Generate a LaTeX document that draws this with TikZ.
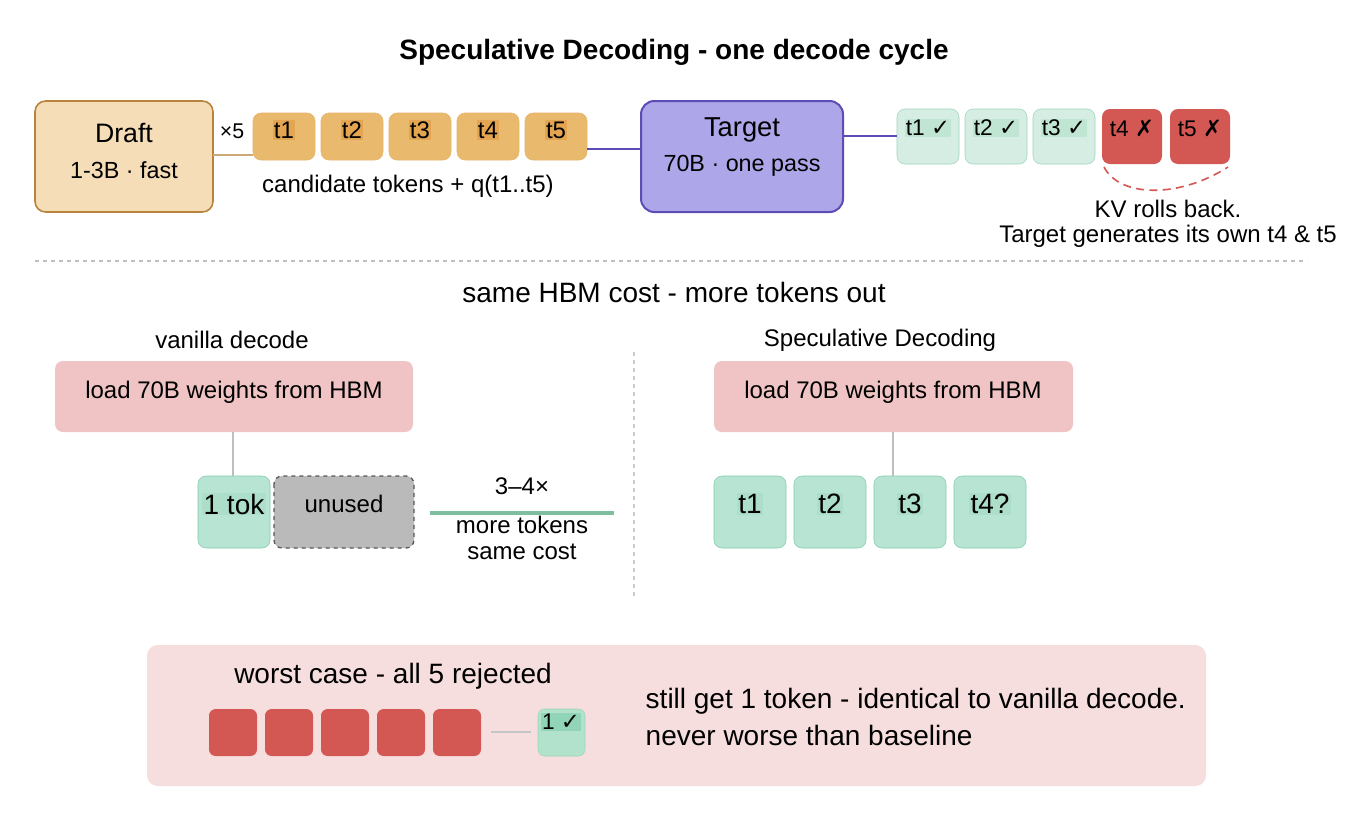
\documentclass[tikz,border=0pt]{standalone}
\usepackage{fontspec}
\setmainfont{Liberation Sans}
\newfontfamily\sym{DejaVu Sans}
\begin{document}
\begin{tikzpicture}[x=0.75pt,y=-0.75pt,
  ft/.style={font=\fontsize{#1}{#1}\selectfont},
  lbl/.style={inner sep=1pt,text depth=0pt},
]
\definecolor{draftF}{HTML}{F5DDB8}\definecolor{draftD}{HTML}{B8843D}
\definecolor{tokF}{HTML}{E9B96E}\definecolor{tokD}{HTML}{E6B56A}\definecolor{tokH}{HTML}{E3A552}
\definecolor{tgtF}{HTML}{ADA6E8}\definecolor{tgtD}{HTML}{5B4DB5}
\definecolor{accF}{HTML}{D5EDE3}\definecolor{accD}{HTML}{9ED6BD}\definecolor{accH}{HTML}{C0E5D3}
\definecolor{rejF}{HTML}{D35752}
\definecolor{loadF}{HTML}{F0C4C4}
\definecolor{grnF}{HTML}{B8E4D4}\definecolor{grnD}{HTML}{7FCDAA}\definecolor{grnH}{HTML}{ACDECA}
\definecolor{panF}{HTML}{F7DEDE}
\useasboundingbox (0,0) rectangle (1352,826);
\fill[white] (0,0) rectangle (1352,826);
\node[ft=21] (title) at (674,52) {\bfseries Speculative Decoding - one decode cycle};
% Draft
\draw[draftD,fill=draftF,rounded corners=8pt,line width=1.2pt] (35,101) rectangle (213,212);
\node[ft=20] (draft) at (124,133) {Draft};
\node[ft=17.5] (draftsub) at (124,170) {1-3B · fast};
\coordinate (draftR) at (213,155);
\node[ft=16] (x5) at (232,131) {×5};
% candidate tokens
\foreach \i/\x in {1/253,2/321,3/389,4/457,5/525}{
  \draw[tokD,fill=tokF,rounded corners=6pt] (\x,113) rectangle ++(62,47);
  \coordinate (c\i L) at (\x,155); \coordinate (c\i R) at (\x+62,149);
  \node[ft=18,fill=tokH,lbl] (c\i) at (\x+31,130) {t\i};
}
\draw[draftD!70!white,line width=2pt] (draftR) -- (c1L);
\node[ft=18] (cand) at (408,186) {candidate tokens + q(t1..t5)};
% Target
\draw[tgtD,fill=tgtF,rounded corners=10pt,line width=1.5pt] (641,101) rectangle (843,212);
\node[ft=20.5] (tgt) at (742,130) {Target};
\node[ft=17.5] (tgtsub) at (742,166) {70B · one pass};
\coordinate (tgtL) at (641,149); \coordinate (tgtR) at (843,136);
\draw[tgtD,line width=1.5pt] (c5R) -- (tgtL);
% verified
\foreach \i/\x in {1/897,2/965,3/1033}{
  \draw[accD,fill=accF,rounded corners=6pt] (\x,109) rectangle ++(62,55);
  \node[ft=17,fill=accH,lbl] (v\i) at (\x+31,128) {t\i\ {\sym\bfseries ✓}};
}
\coordinate (v1L) at (897,136);
\draw[tgtD,line width=1.5pt] (tgtR) -- (v1L);
\foreach \i/\x in {4/1102,5/1170}{
  \fill[rejF,rounded corners=6pt] (\x,109) rectangle ++(60,55);
  \node[ft=17,lbl] (v\i) at (\x+30,128) {t\i\ {\sym\bfseries ✗}};
}
\coordinate (kvA) at (1104,167); \coordinate (kvB) at (1228,167);
\draw[rejF,line width=1.2pt,dash pattern=on 6pt off 4pt] (kvA) .. controls (1120,198) and (1180,198) .. (kvB);
\node[ft=18] (kv1) at (1168,209) {KV rolls back.};
\node[ft=18] (kv2) at (1168,236) {Target generates its own t4 \& t5};
% separator
\draw[gray!50,dashed,line width=0.8pt] (35,261) -- (1307,261);
\node[ft=21] (hbm) at (674,292) {same HBM cost - more tokens out};
\node[ft=18] (van) at (232,340) {vanilla decode};
\node[ft=18] (spec) at (880,340) {Speculative Decoding};
\fill[loadF,rounded corners=6pt] (55,361) rectangle (413,432);
\node[ft=18] (load1) at (234,392) {load 70B weights from HBM};
\fill[loadF,rounded corners=6pt] (714,361) rectangle (1073,432);
\node[ft=18] (load2) at (893,392) {load 70B weights from HBM};
\coordinate (l1B) at (233,432); \coordinate (l2B) at (893,432);
\draw[grnD,fill=grnF,rounded corners=6pt] (198,476) rectangle (270,548);
\node[ft=21,fill=grnH,lbl] (tok) at (234,504) {1 tok};
\coordinate (tokT) at (233,476);
\draw[gray!50,line width=1pt] (l1B) -- (tokT);
\draw[black!65,dashed,fill=black!27,rounded corners=6pt,line width=1pt] (274,476) rectangle (414,548);
\node[ft=18] (unused) at (344,504) {unused};
\node[ft=18] (r34) at (522,486) {3–4×};
\coordinate (gA) at (430,513); \coordinate (gB) at (614,513);
\draw[grnD!80!gray,line width=2.5pt] (gA) -- (gB);
\node[ft=18] (more) at (522,525) {more tokens};
\node[ft=18] (same) at (522,552) {same cost};
\draw[gray!40,dashed,line width=0.8pt] (634,352) -- (634,598);
\foreach \n/\t/\x in {1/t1/714,2/t2/794,3/t3/874,4/t4?/954}{
  \draw[grnD,fill=grnF,rounded corners=6pt] (\x,476) rectangle ++(72,72);
  \node[ft=21,fill=grnH,lbl] (s\n) at (\x+36,504) {\t};
}
\coordinate (s3T) at (893,476);
\draw[gray!50,line width=1pt] (l2B) -- (s3T);
% bottom panel
\fill[panF,rounded corners=8pt] (147,645) rectangle (1206,786);
\node[ft=21] (worst) at (393,676) {worst case - all 5 rejected};
\foreach \x in {209,265,321,377,433}{
  \fill[rejF,rounded corners=5pt] (\x,709) rectangle ++(48,47);
}
\coordinate (rR) at (491,732); \coordinate (oL) at (531,732);
\draw[gray!45,line width=1pt] (rR) -- (oL);
\draw[grnD!80!white,fill=grnD!60!white,rounded corners=5pt] (538,709) rectangle (585,756);
\node[ft=17,fill=grnD!85!white,lbl] (one) at (561,722) {1 {\sym\bfseries ✓}};
\node[ft=21,anchor=west] (still) at (641,701) {still get 1 token - identical to vanilla decode.};
\node[ft=21,anchor=west] (never) at (641,735) {never worse than baseline};
\end{tikzpicture}
\end{document}
